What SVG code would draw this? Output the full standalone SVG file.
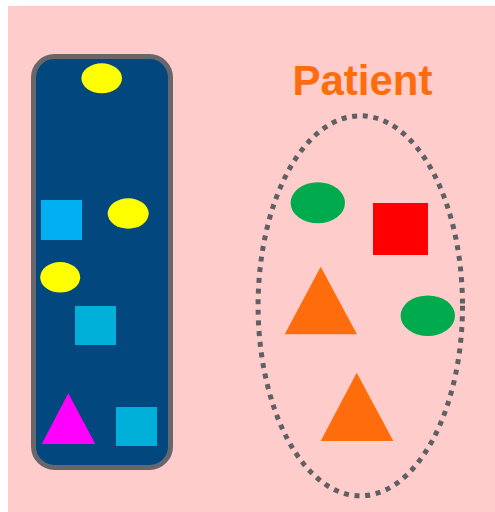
<svg xmlns="http://www.w3.org/2000/svg" width="495" height="512" viewBox="0 0 495 512">
<style>
.yel{fill:#FFFF00}
.cyan{fill:#00B0D8}
.grn{fill:#00AB4E}
.org{fill:#FF6C0C}
</style>
<rect x="0" y="0" width="495" height="512" fill="#FFFFFF"/>
<rect x="8" y="6" width="487" height="506" fill="#FFCCCC"/>
<g id="container">
<rect x="33.5" y="56.5" width="137" height="411" rx="21" ry="21" fill="#03477F" stroke="#67676B" stroke-width="5"/>
</g>
<g id="yellow1"><ellipse class="yel" cx="101.7" cy="78.3" rx="20.3" ry="15"/></g>
<g id="square1"><rect x="41" y="200" width="41" height="40" fill="#00B0F0"/></g>
<g id="yellow2"><ellipse class="yel" cx="128.2" cy="213.5" rx="20.5" ry="15.2"/></g>
<g id="yellow3"><ellipse class="yel" cx="60.2" cy="277.3" rx="20" ry="15.3"/></g>
<g id="square2"><rect class="cyan" x="75" y="306" width="41" height="39"/></g>
<g id="triangle1"><polygon points="68.3,393.3 41.7,444 95.3,444" fill="#FF00FF"/></g>
<g id="square3"><rect class="cyan" x="116" y="407" width="41" height="39"/></g>
<g id="patient">
<text x="362.5" y="95" text-anchor="middle" font-family="'Liberation Sans', Arial, sans-serif" font-weight="bold" font-size="42" fill="#FF6C0C">Patient</text>
<ellipse cx="360.3" cy="305.8" rx="102.2" ry="190" fill="none" stroke="#5F6064" stroke-width="5" stroke-dasharray="5 5.7"/>
</g>
<g id="green1"><ellipse class="grn" cx="317.8" cy="202.8" rx="27.2" ry="20.5"/></g>
<g id="redsquare"><rect x="373" y="203" width="55" height="52" fill="#FF0000"/></g>
<g id="orange1"><polygon class="org" points="320.7,266.7 284.7,334.3 357,334.3"/></g>
<g id="green2"><ellipse class="grn" cx="427.8" cy="315.7" rx="27.2" ry="20.3"/></g>
<g id="orange2"><polygon class="org" points="356.7,372.7 320.7,441 393.3,441"/></g>
<g id="connectors"></g>
</svg>
